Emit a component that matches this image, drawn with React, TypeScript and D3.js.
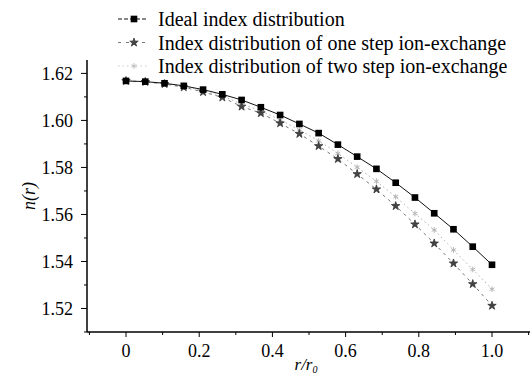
import React from "react";
import * as d3 from "d3";

const rValues = d3.range(20).map((k) => k / 19);
const idealValues = [1.6168, 1.6165, 1.6158, 1.6147, 1.6131, 1.6111, 1.6087, 1.6056, 1.6023, 1.5985, 1.5946, 1.5897, 1.5846, 1.5794, 1.5735, 1.5672, 1.5605, 1.5537, 1.5463, 1.5386];
const oneStepValues = [1.6168, 1.6164, 1.6155, 1.6141, 1.6121, 1.6098, 1.6059, 1.6031, 1.5988, 1.5943, 1.5891, 1.5836, 1.5772, 1.5707, 1.5636, 1.5558, 1.5477, 1.5392, 1.5304, 1.5212];
const twoStepValues = [1.6168, 1.6165, 1.6157, 1.6144, 1.6126, 1.6104, 1.6070, 1.6041, 1.6002, 1.5960, 1.5913, 1.5860, 1.5801, 1.5741, 1.5675, 1.5604, 1.5534, 1.5449, 1.5366, 1.5282];
const xTicks = [0, 0.2, 0.4, 0.6, 0.8, 1.0];
const xTickLabels = ["0", "0.2", "0.4", "0.6", "0.8", "1.0"];
const xMinorTicks = [-0.1, 0.1, 0.3, 0.5, 0.7, 0.9, 1.1];
const yTicks = [1.52, 1.54, 1.56, 1.58, 1.6, 1.62];
const yMinorTicks = [1.51, 1.53, 1.55, 1.57, 1.59, 1.61];
const legendLabels = [
  "Ideal index distribution",
  "Index distribution of one step ion-exchange",
  "Index distribution of two step ion-exchange",
];

const W = 532;
const H = 378;
const FONT = "'Liberation Serif', 'Times New Roman', serif";

export default function App() {
  const x = d3.scaleLinear().domain([-0.1066, 1.1038]).range([87, 530]);
  const y = d3.scaleLinear().domain([1.51, 1.6257]).range([332, 60]);

  const mk = (vals: number[]) =>
    d3
      .line<number>()
      .x((_, i) => x(rValues[i]))
      .y((v) => y(v))(vals) || "";

  const square = d3.symbol(d3.symbolSquare, 44)() || "";
  const star = d3.symbol(d3.symbolStar, 22)() || "";
  const cross = d3.symbol(d3.symbolAsterisk ?? d3.symbolCross, 22)() || "";

  const x0 = x.range()[0];
  const y0 = y.range()[0];
  const ts = { fontFamily: FONT };

  return (
    <svg
      width={W}
      height={H}
      style={{ position: "absolute", left: 0, top: 0, background: "#fff" }}
    >
      {/* series */}
      <path d={mk(twoStepValues)} fill="none" stroke="#b0b0b0" strokeWidth={1} strokeDasharray="1.5,3" />
      <path d={mk(oneStepValues)} fill="none" stroke="#777" strokeWidth={1} strokeDasharray="3,4" />
      <path d={mk(idealValues)} fill="none" stroke="#111" strokeWidth={1} />
      {twoStepValues.map((v, i) => (
        <path key={"t" + i} d={cross} transform={`translate(${x(rValues[i])},${y(v)})`} fill="none" stroke="#b5b5b5" strokeWidth={1} />
      ))}
      {oneStepValues.map((v, i) => (
        <path key={"o" + i} d={star} transform={`translate(${x(rValues[i])},${y(v)})`} fill="#444" stroke="#333" strokeWidth={0.8} />
      ))}
      {idealValues.map((v, i) => (
        <path key={"i" + i} d={square} transform={`translate(${x(rValues[i])},${y(v)})`} fill="#000" />
      ))}

      {/* axes */}
      <line x1={x0} x2={x0} y1={60} y2={y0} stroke="#000" strokeWidth={1.5} />
      <line x1={x0} x2={530} y1={y0} y2={y0} stroke="#000" strokeWidth={1.5} />
      {yTicks.map((t) => (
        <g key={"yt" + t}>
          <line x1={x0 - 6} x2={x0} y1={y(t)} y2={y(t)} stroke="#000" strokeWidth={1} />
          <text x={x0 - 14} y={y(t)} dy="0.35em" textAnchor="end" fontSize={18} fill="#000" style={ts}>
            {t.toFixed(2)}
          </text>
        </g>
      ))}
      {yMinorTicks.map((t) => (
        <line key={"ym" + t} x1={x0 - 3} x2={x0} y1={y(t)} y2={y(t)} stroke="#000" strokeWidth={1} />
      ))}
      {xTicks.map((t, i) => (
        <g key={"xt" + t}>
          <line x1={x(t)} x2={x(t)} y1={y0} y2={y0 + 5} stroke="#000" strokeWidth={1} />
          <text x={x(t)} y={y0 + 25} textAnchor="middle" fontSize={18} fill="#000" style={ts}>
            {xTickLabels[i]}
          </text>
        </g>
      ))}
      {xMinorTicks.map((t) => (
        <line key={"xm" + t} x1={x(t)} x2={x(t)} y1={y0} y2={y0 + 3} stroke="#000" strokeWidth={1} />
      ))}

      {/* axis labels */}
      <text x={306} y={370} textAnchor="middle" fontSize={17} fontStyle="italic" fill="#000" style={ts}>
        r/r<tspan fontSize={10} dy={3}>0</tspan>
      </text>
      <text transform="translate(35,196) rotate(-90)" textAnchor="middle" fontSize={18} fontStyle="italic" fill="#000" style={ts}>
        n(r)
      </text>

      {/* legend */}
      {legendLabels.map((lab, i) => {
        const ly = 19 + i * 23.5;
        return (
          <g key={"lg" + i}>
            {i === 0 && (
              <>
                <line x1={118} x2={148} y1={ly} y2={ly} stroke="#111" strokeWidth={1} strokeDasharray="4,2" />
                <path d={square} transform={`translate(134,${ly})`} fill="#000" />
              </>
            )}
            {i === 1 && (
              <>
                <line x1={118} x2={148} y1={ly} y2={ly} stroke="#777" strokeWidth={1} strokeDasharray="3,5" />
                <path d={star} transform={`translate(134,${ly})`} fill="#444" stroke="#333" strokeWidth={0.8} />
              </>
            )}
            {i === 2 && (
              <>
                <line x1={118} x2={148} y1={ly} y2={ly} stroke="#c8c8c8" strokeWidth={1} strokeDasharray="1.5,3" />
                <path d={cross} transform={`translate(134,${ly})`} fill="none" stroke="#c0c0c0" strokeWidth={1} />
              </>
            )}
            <text x={158} y={ly} dy="0.35em" fontSize={20} fill="#000" style={ts}>
              {lab}
            </text>
          </g>
        );
      })}
    </svg>
  );
}
